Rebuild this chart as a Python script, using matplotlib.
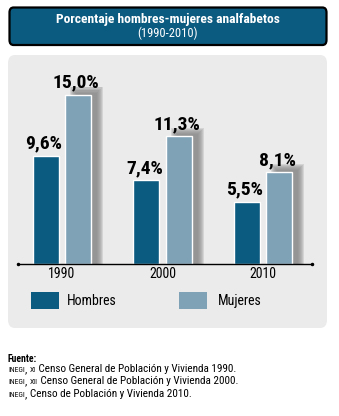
import matplotlib
matplotlib.use("Agg")
import matplotlib.pyplot as plt
from matplotlib.patches import FancyBboxPatch
import numpy as np

years = ["1990", "2000", "2010"]
hombres = [9.6, 7.4, 5.5]
mujeres = [15.0, 11.3, 8.1]
series_names = ["Hombres", "Mujeres"]
title = "Porcentaje hombres-mujeres analfabetos"
subtitle = "(1990-2010)"
fuente = [
    ("INEGI", ", ", "XI", " Censo General de Población y Vivienda 1990."),
    ("INEGI", ", ", "XII", " Censo General de Población y Vivienda 2000."),
    ("INEGI", ", ", "", "Censo de Población y Vivienda 2010."),
]

C_H = "#0b5a80"
C_M = "#7fa2b7"
C_PANEL = "#ebebeb"
C_SHADOW = "#858585"
plt.rcParams["font.family"] = ["Roboto Condensed", "DejaVu Sans"]

W, H = 339, 416
fig = plt.figure(figsize=(W / 100, H / 100), dpi=100)


def fx(px):
    return px / W


def fy(py):
    return 1 - py / H


# grey panel (behind the axes)
fig.patches.append(FancyBboxPatch((fx(8), fy(328)), fx(319), 273 / H,
                                  boxstyle="round,pad=0,rounding_size=0.02",
                                  transform=fig.transFigure, fc=C_PANEL, ec="none", zorder=-2))
# title box
fig.patches.append(FancyBboxPatch((fx(9.5), fy(45)), fx(317), 37.5 / H,
                                  boxstyle="round,pad=0,rounding_size=0.012",
                                  transform=fig.transFigure, fc=C_H, ec="black", lw=1.6, zorder=1))
fig.text(fx(168), fy(19), title, color="white", fontsize=9.7, fontweight="bold",
         ha="center", va="center")
fig.text(fx(168), fy(33.5), subtitle, color="white", fontsize=9,
         ha="center", va="center")

# chart axes
ppu = 100.5          # pixels per x unit
ppy = 11.3           # pixels per percent
x0 = 62
ax = fig.add_axes([fx(18), fy(264), fx(294), 204 / H])
ax.set_xlim((18 - x0) / ppu, (312 - x0) / ppu)
ax.set_ylim(0, 204 / ppy)
ax.patch.set_visible(False)

x = np.arange(len(years))
bw = 0.26
off = 0.16
xh = x - off
xm = x + off

# soft (blurred) shadow behind the Mujeres bars
n_layers = 7
for k in range(n_layers):
    d = (k / (n_layers - 1) - 0.5) * 2 * 3     # -3 .. +3 px
    left = xm - bw / 2 + 8 / ppu + d / ppu
    right = xm + bw / 2 + 9 / ppu - d / ppu
    top = np.array(mujeres) + (5 - d) / ppy
    ax.bar(left, top, width=right - left, align="edge", color=C_SHADOW,
           alpha=0.22, zorder=1, linewidth=0)

ax.bar(xh, hombres, width=bw, color=C_H, edgecolor="white", linewidth=1, zorder=3)
ax.bar(xm, mujeres, width=bw, color=C_M, edgecolor="white", linewidth=1, zorder=3)

for xs, vals in ((xh, hombres), (xm, mujeres)):
    for xi, v in zip(xs, vals):
        ax.text(xi - 0.02, v + 0.3, f"{v:.1f}".replace(".", ",") + "%",
                ha="center", va="bottom", fontsize=14, fontweight="bold", zorder=4)

for s in ("top", "right", "left"):
    ax.spines[s].set_visible(False)
ax.spines["bottom"].set_linewidth(1)
ax.spines["bottom"].set_zorder(5)
ax.plot(ax.get_xlim(), [0, 0], "k.", markersize=3, clip_on=False, zorder=5)
ax.set_yticks([])
ax.set_xticks(x)
ax.set_xticklabels(years, fontsize=10)
ax.tick_params(axis="x", length=0, pad=2.5)

# legend
for (lx, tx), name, col in zip(((31, 67), (179, 218)), series_names, (C_H, C_M)):
    fig.patches.append(plt.Rectangle((fx(lx), fy(309)), fx(28), 17 / H,
                                     transform=fig.transFigure, fc=col, ec="none", zorder=2))
    fig.text(fx(tx), fy(301), name, fontsize=10, ha="left", va="center")

# source notes
fig.text(fx(8), fy(361.5), "Fuente:", fontsize=7, fontweight="bold", va="baseline")
for line, base in zip(fuente, (372.5, 384.5, 397)):
    prev = fig.text(fx(8), fy(base), line[0], fontsize=5.5, va="baseline")
    for part in line[1:]:
        if not part:
            continue
        small = part.strip() in ("XI", "XII")
        prev = ax.annotate(part, xy=(1, fy(base)), xycoords=(prev, "figure fraction"),
                           fontsize=5.5 if small else 8, va="baseline", ha="left",
                           annotation_clip=False)

fig.savefig("out.png", dpi=100)
